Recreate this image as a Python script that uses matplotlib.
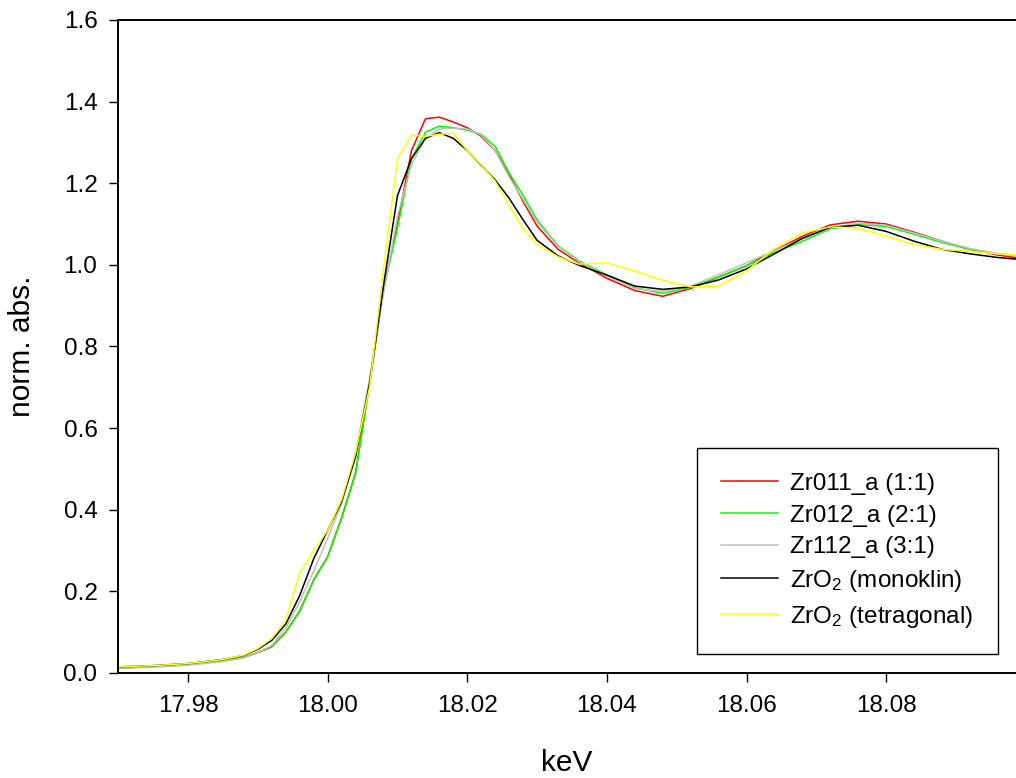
import matplotlib
matplotlib.use("Agg")
import matplotlib.pyplot as plt

plt.rcParams['font.family'] = ['Liberation Sans', 'DejaVu Sans']
plt.rcParams['mathtext.fontset'] = 'custom'
plt.rcParams['mathtext.rm'] = 'Liberation Sans'
plt.rcParams['mathtext.it'] = 'Liberation Sans'

# energy grid (keV)
energy = [17.970, 17.975, 17.980, 17.985, 17.988, 17.990, 17.992, 17.994, 17.996, 17.998,
          18.000, 18.002, 18.004, 18.006, 18.008, 18.010, 18.012, 18.014, 18.016, 18.018,
          18.020, 18.022, 18.024, 18.026, 18.028, 18.030, 18.033, 18.036, 18.040, 18.044,
          18.048, 18.052, 18.056, 18.060, 18.064, 18.068, 18.072, 18.076, 18.080, 18.084,
          18.088, 18.092, 18.096, 18.100]

zr011 = [0.012, 0.016, 0.021, 0.030, 0.038, 0.050, 0.064, 0.100, 0.152, 0.228,
         0.285, 0.380, 0.490, 0.710, 0.940, 1.100, 1.280, 1.358, 1.362, 1.350,
         1.336, 1.315, 1.280, 1.222, 1.155, 1.095, 1.038, 1.005, 0.967, 0.937,
         0.923, 0.942, 0.970, 0.998, 1.035, 1.070, 1.098, 1.107, 1.100, 1.080,
         1.058, 1.038, 1.024, 1.014]

zr012 = [0.012, 0.016, 0.021, 0.030, 0.038, 0.050, 0.065, 0.100, 0.152, 0.228,
         0.285, 0.380, 0.490, 0.710, 0.940, 1.090, 1.260, 1.325, 1.340, 1.336,
         1.330, 1.320, 1.290, 1.225, 1.170, 1.110, 1.047, 1.010, 0.975, 0.944,
         0.930, 0.945, 0.970, 0.998, 1.030, 1.058, 1.088, 1.099, 1.094, 1.075,
         1.055, 1.038, 1.027, 1.020]

zr112 = [0.011, 0.014, 0.019, 0.028, 0.037, 0.050, 0.068, 0.110, 0.175, 0.250,
         0.330, 0.415, 0.540, 0.720, 0.930, 1.120, 1.245, 1.310, 1.333, 1.335,
         1.333, 1.318, 1.280, 1.215, 1.160, 1.105, 1.045, 1.008, 0.972, 0.942,
         0.935, 0.948, 0.976, 1.005, 1.035, 1.064, 1.090, 1.102, 1.097, 1.078,
         1.058, 1.040, 1.028, 1.020]

zro2_mono = [0.015, 0.018, 0.023, 0.033, 0.043, 0.058, 0.080, 0.120, 0.190, 0.280,
             0.350, 0.420, 0.530, 0.710, 0.950, 1.170, 1.260, 1.310, 1.324, 1.310,
             1.280, 1.244, 1.208, 1.163, 1.110, 1.060, 1.022, 0.999, 0.975, 0.948,
             0.940, 0.946, 0.963, 0.990, 1.027, 1.065, 1.092, 1.097, 1.082, 1.058,
             1.038, 1.027, 1.018, 1.012]

zro2_tetra = [0.015, 0.018, 0.023, 0.033, 0.044, 0.060, 0.085, 0.130, 0.245, 0.300,
              0.350, 0.425, 0.540, 0.700, 0.990, 1.260, 1.318, 1.315, 1.320, 1.323,
              1.280, 1.245, 1.205, 1.145, 1.088, 1.050, 1.020, 1.002, 1.005, 0.985,
              0.962, 0.946, 0.948, 0.985, 1.040, 1.078, 1.093, 1.090, 1.070, 1.050,
              1.038, 1.033, 1.027, 1.022]

series = [
    ("Zr011_a (1:1)", zr011, "#ff0000"),
    ("Zr012_a (2:1)", zr012, "#00ff00"),
    ("Zr112_a (3:1)", zr112, "#c0c0c0"),
    ("ZrO$_\\mathrm{2}$ (monoklin)", zro2_mono, "#000000"),
    ("ZrO$_\\mathrm{2}$ (tetragonal)", zro2_tetra, "#ffff00"),
]

fig = plt.figure(figsize=(10.16, 7.78), dpi=100)
ax = fig.add_axes([0.1164, 0.135, 0.8836, 0.8393])

for label, vals, color in series:
    ax.plot(energy, vals, color=color, lw=1.1, label=label)

ax.set_xlim(17.97, 18.0986)
ax.set_ylim(0.0, 1.6)
ax.set_xticks([17.98, 18.00, 18.02, 18.04, 18.06, 18.08])
ax.set_yticks([0.0, 0.2, 0.4, 0.6, 0.8, 1.0, 1.2, 1.4, 1.6])
ax.xaxis.set_major_formatter(matplotlib.ticker.FormatStrFormatter('%.2f'))
ax.yaxis.set_major_formatter(matplotlib.ticker.FormatStrFormatter('%.1f'))
ax.tick_params(direction='out', length=6.5, width=1, labelsize=17.5, pad=8.5)
ax.tick_params(axis='x', pad=9.5)

ax.spines['right'].set_visible(False)
for s in ['left', 'bottom', 'top']:
    ax.spines[s].set_linewidth(1.4)

ax.set_xlabel("keV", fontsize=21.5, labelpad=23)
ax.set_ylabel("norm. abs.", fontsize=21.5, labelpad=20)

leg = ax.legend(loc='lower right', bbox_to_anchor=(998 / 1016, 1 - 654 / 778),
                bbox_transform=fig.transFigure, borderaxespad=0, fontsize=17.5,
                handlelength=2.35, handletextpad=0.5, labelspacing=0.4,
                borderpad=1.0, fancybox=False, framealpha=1)
leg.get_frame().set_edgecolor('black')
leg.get_frame().set_linewidth(1.0)

fig.savefig("out.png", dpi=100)
